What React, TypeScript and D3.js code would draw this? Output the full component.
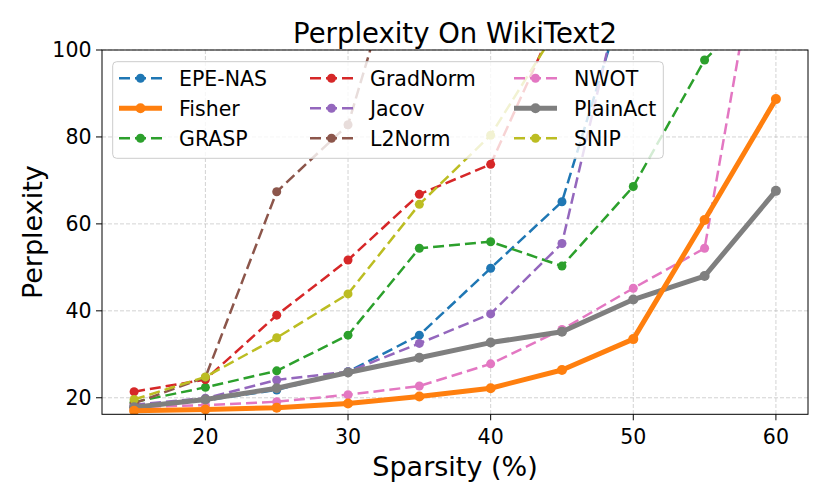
import { useEffect, useRef } from "react";
import * as d3 from "d3";

// sparsity levels (%) on the x axis
const sparsity = [15, 20, 25, 30, 35, 40, 45, 50, 55, 60];

// perplexity per method (values above 100 run off the top of the plot)
const epeNas = [18.0, 19.4, 21.8, 26.0, 34.4, 49.8, 65.1, 118.6, 170, 230];
const fisher = [17.0, 17.3, 17.7, 18.7, 20.3, 22.2, 26.4, 33.5, 60.9, 88.7];
const grasp = [19.0, 22.4, 26.2, 34.4, 54.4, 55.9, 50.3, 68.6, 97.7, 114];
const gradNorm = [21.4, 24.2, 39.0, 51.7, 66.8, 73.7, 110, 150, 200, 260];
const jacov = [18.4, 19.9, 24.1, 26.0, 32.5, 39.3, 55.5, 125.3, 190, 260];
const l2Norm = [18.7, 24.7, 67.4, 82.8, 138, 190, 250, 320, 400, 480];
const nwot = [17.9, 18.3, 19.1, 20.7, 22.7, 27.8, 35.7, 45.2, 54.4, 148];
const plainAct = [17.8, 19.6, 22.2, 25.8, 29.2, 32.7, 35.2, 42.6, 48.0, 67.6];
const snip = [19.6, 24.8, 33.8, 43.9, 64.5, 80.4, 106.7, 140, 190, 250];

const xTicks = [20, 30, 40, 50, 60];
const yTicks = [20, 40, 60, 80, 100];

type Series = { name: string; values: number[]; color: string; bold: boolean };

// legend order (alphabetical, column-major)
const series: Series[] = [
  { name: "EPE-NAS", values: epeNas, color: "#1f77b4", bold: false },
  { name: "Fisher", values: fisher, color: "#ff7f0e", bold: true },
  { name: "GRASP", values: grasp, color: "#2ca02c", bold: false },
  { name: "GradNorm", values: gradNorm, color: "#d62728", bold: false },
  { name: "Jacov", values: jacov, color: "#9467bd", bold: false },
  { name: "L2Norm", values: l2Norm, color: "#8c564b", bold: false },
  { name: "NWOT", values: nwot, color: "#e377c2", bold: false },
  { name: "PlainAct", values: plainAct, color: "#7f7f7f", bold: true },
  { name: "SNIP", values: snip, color: "#bcbd22", bold: false },
];

const App = () => {
  const svgRef = useRef<SVGSVGElement | null>(null);

  useEffect(() => {
    const width = 830;
    const height = 498;
    const left = 102, right = 808, top = 50, bottom = 414.3;
    const font = "DejaVu Sans";

    const svg = d3.select(svgRef.current);
    svg.selectAll("*").remove();
    svg.attr("width", width).attr("height", height).style("font-family", font);

    svg.append("rect").attr("width", width).attr("height", height).attr("fill", "#fff");

    const x = d3.scaleLinear().domain([12.75, 62.25]).range([left, right]);
    const y = d3.scaleLinear().domain([16.2, 100]).range([bottom, top]);

    svg.append("defs").append("clipPath").attr("id", "plot-clip")
      .append("rect")
      .attr("x", left).attr("y", top)
      .attr("width", right - left).attr("height", bottom - top);

    // grid
    const grid = svg.append("g")
      .attr("stroke", "#b0b0b0")
      .attr("stroke-opacity", 0.7)
      .attr("stroke-width", 0.8)
      .attr("stroke-dasharray", "4,2");
    grid.selectAll("line.gx").data(xTicks).enter().append("line")
      .attr("x1", d => x(d)).attr("x2", d => x(d))
      .attr("y1", top).attr("y2", bottom);
    grid.selectAll("line.gy").data(yTicks).enter().append("line")
      .attr("x1", left).attr("x2", right)
      .attr("y1", d => y(d)).attr("y2", d => y(d));

    // lines, thick ones on top
    const drawOrder = [...series.filter(s => !s.bold), series[7], series[1]];
    const line = d3.line<number>()
      .x((_, i) => x(sparsity[i]))
      .y(d => y(d));

    const plot = svg.append("g").attr("clip-path", "url(#plot-clip)");
    drawOrder.forEach(s => {
      const g = plot.append("g");
      g.append("path")
        .attr("d", line(s.values))
        .attr("fill", "none")
        .attr("stroke", s.color)
        .attr("stroke-width", s.bold ? 5 : 2.5)
        .attr("stroke-linejoin", "round")
        .attr("stroke-dasharray", s.bold ? null : "11,5");
      g.selectAll("circle")
        .data(s.values)
        .enter()
        .append("circle")
        .attr("cx", (_, i) => x(sparsity[i]))
        .attr("cy", d => y(d))
        .attr("r", s.bold ? 5 : 4.5)
        .attr("fill", s.color);
    });

    // spines
    svg.append("rect")
      .attr("x", left).attr("y", top)
      .attr("width", right - left).attr("height", bottom - top)
      .attr("fill", "none").attr("stroke", "#000").attr("stroke-width", 1);

    // ticks
    const tickG = svg.append("g").attr("font-size", 20.5).attr("fill", "#000");
    xTicks.forEach(t => {
      tickG.append("line")
        .attr("x1", x(t)).attr("x2", x(t))
        .attr("y1", bottom).attr("y2", bottom + 6)
        .attr("stroke", "#000");
      tickG.append("text")
        .attr("x", x(t)).attr("y", 443.5)
        .attr("text-anchor", "middle")
        .text(t);
    });
    yTicks.forEach(t => {
      tickG.append("line")
        .attr("x1", left - 6).attr("x2", left)
        .attr("y1", y(t)).attr("y2", y(t))
        .attr("stroke", "#000");
      tickG.append("text")
        .attr("x", 91.5).attr("y", y(t))
        .attr("dy", "0.36em")
        .attr("text-anchor", "end")
        .text(t);
    });

    // labels + title
    svg.append("text")
      .attr("x", (left + right) / 2).attr("y", 475.5)
      .attr("text-anchor", "middle").attr("font-size", 27)
      .text("Sparsity (%)");
    svg.append("text")
      .attr("transform", `translate(42,${(top + bottom) / 2}) rotate(-90)`)
      .attr("text-anchor", "middle").attr("font-size", 27)
      .text("Perplexity");
    svg.append("text")
      .attr("x", (left + right) / 2).attr("y", 43)
      .attr("text-anchor", "middle").attr("font-size", 27.5)
      .text("Perplexity On WikiText2");

    // legend
    const legend = svg.append("g");
    legend.append("rect")
      .attr("x", 112.7).attr("y", 61.7)
      .attr("width", 663.3 - 112.7).attr("height", 158.3 - 61.7)
      .attr("rx", 4)
      .attr("fill", "#fff").attr("fill-opacity", 0.8)
      .attr("stroke", "#cccccc").attr("stroke-width", 1);

    const colX = [119, 310, 514];
    const rowY = [78.3, 108.3, 138.3];
    series.forEach((s, i) => {
      const cx = colX[Math.floor(i / 3)];
      const cy = rowY[i % 3];
      const item = legend.append("g");
      item.append("line")
        .attr("x1", cx).attr("x2", cx + 43)
        .attr("y1", cy).attr("y2", cy)
        .attr("stroke", s.color)
        .attr("stroke-width", s.bold ? 5 : 2.5)
        .attr("stroke-dasharray", s.bold ? null : "11,5");
      item.append("circle")
        .attr("cx", cx + 21.5).attr("cy", cy)
        .attr("r", s.bold ? 5 : 4.5)
        .attr("fill", s.color);
      item.append("text")
        .attr("x", cx + 60).attr("y", cy)
        .attr("dy", "0.36em")
        .attr("font-size", 20.5)
        .text(s.name);
    });
  }, []);

  return <svg ref={svgRef} style={{ position: "absolute", left: 0, top: 0 }}></svg>;
};

export default App;
